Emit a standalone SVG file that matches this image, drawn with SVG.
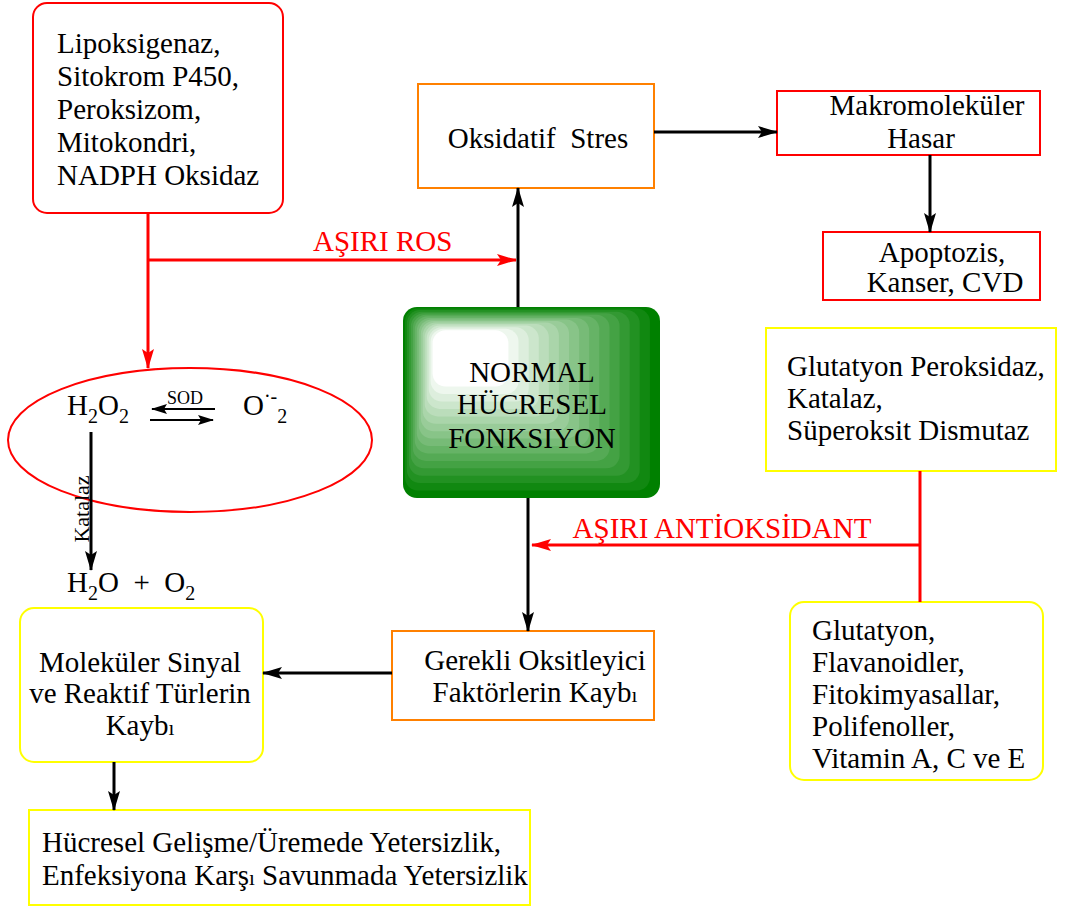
<svg xmlns="http://www.w3.org/2000/svg" width="1076" height="911" viewBox="0 0 1076 911" font-family="'Liberation Serif', 'DejaVu Serif', serif">
<style>
text{font-family:'Liberation Serif','DejaVu Serif',serif;font-size:29px;fill:#000}
.c{text-anchor:middle}
.red{fill:#FF0000}
.fb{font-size:21px}
.sub{font-size:20px}
.bx{fill:#fff;stroke-width:2}
.r{stroke:#FF0000}
.o{stroke:#FF8000}
.y{stroke:#FFFF00}
.ln{fill:none;stroke:#000;stroke-width:3}
.lr{fill:none;stroke:#FF0000;stroke-width:3}
.ls{fill:none;stroke:#000;stroke-width:2}
</style>
<defs>
<marker id="ab" viewBox="0 0 20 12" refX="19" refY="6" markerWidth="20" markerHeight="12" markerUnits="userSpaceOnUse" orient="auto"><path d="M0,0 L20,6 L0,12 L4,6 Z" fill="#000"/></marker>
<marker id="ar" viewBox="0 0 20 12" refX="19" refY="6" markerWidth="20" markerHeight="12" markerUnits="userSpaceOnUse" orient="auto"><path d="M0,0 L20,6 L0,12 L4,6 Z" fill="#FF0000"/></marker>
<marker id="as" viewBox="0 0 16 10" refX="15" refY="5" markerWidth="16" markerHeight="10" markerUnits="userSpaceOnUse" orient="auto"><path d="M0,0 L16,5 L0,10 L3,5 Z" fill="#000"/></marker>
</defs>

<g id="n-sources">
<rect class="bx r" x="33" y="3" width="250" height="210" rx="14"/>
<text x="57" y="53">Lipoksigenaz,</text>
<text x="57" y="86">Sitokrom P450,</text>
<text x="57" y="119">Peroksizom,</text>
<text x="57" y="152">Mitokondri,</text>
<text x="57" y="185">NADPH Oksidaz</text>
</g>

<g id="n-stres">
<rect class="bx o" x="418" y="84" width="236" height="104"/>
<text class="c" x="538" y="148" xml:space="preserve">Oksidatif  Stres</text>
</g>

<g id="n-makro">
<rect class="bx r" x="777" y="91" width="263" height="64"/>
<text class="c" x="927" y="115">Makromoleküler</text>
<text class="c" x="921" y="148">Hasar</text>
</g>

<g id="n-apoptozis">
<rect class="bx r" x="823" y="232" width="217" height="68"/>
<text class="c" x="942" y="262">Apoptozis,</text>
<text class="c" x="945" y="292">Kanser, CVD</text>
</g>

<g id="n-enzymes">
<rect class="bx y" x="766" y="328" width="290" height="143"/>
<text x="787" y="376">Glutatyon Peroksidaz,</text>
<text x="787" y="408">Katalaz,</text>
<text x="787" y="440">Süperoksit Dismutaz</text>
</g>

<g id="n-antiox">
<rect class="bx y" x="790" y="602" width="253" height="178" rx="14"/>
<text x="812" y="640">Glutatyon,</text>
<text x="812" y="672">Flavanoidler,</text>
<text x="812" y="704">Fitokimyasallar,</text>
<text x="812" y="736">Polifenoller,</text>
<text x="812" y="768">Vitamin A, C ve E</text>
</g>

<g id="n-normal">
<rect x="403" y="307" width="257" height="191" rx="14" fill="#008000"/>
<rect x="405.0" y="308.6" width="244.9" height="182.0" rx="13" fill="#118811"/>
<rect x="406.9" y="310.1" width="232.8" height="173.0" rx="13" fill="#229122"/>
<rect x="408.9" y="311.7" width="220.8" height="164.1" rx="13" fill="#339933"/>
<rect x="410.9" y="313.2" width="208.7" height="155.1" rx="13" fill="#44A244"/>
<rect x="412.9" y="314.8" width="196.6" height="146.1" rx="13" fill="#55AA55"/>
<rect x="414.8" y="316.3" width="184.5" height="137.1" rx="13" fill="#66B366"/>
<rect x="416.8" y="317.9" width="172.4" height="128.2" rx="13" fill="#77BB77"/>
<rect x="418.8" y="319.4" width="160.4" height="119.2" rx="13" fill="#88C488"/>
<rect x="420.8" y="321.0" width="148.3" height="110.2" rx="13" fill="#99CC99"/>
<rect x="422.7" y="322.5" width="136.2" height="101.2" rx="13" fill="#AAD5AA"/>
<rect x="424.7" y="324.1" width="124.1" height="92.3" rx="13" fill="#BBDDBB"/>
<rect x="426.7" y="325.6" width="112.1" height="83.3" rx="13" fill="#CCE6CC"/>
<rect x="428.7" y="327.2" width="100.0" height="74.3" rx="13" fill="#DDEEDD"/>
<rect x="430.6" y="328.7" width="87.9" height="65.3" rx="13" fill="#EEF7EE"/>
<rect x="432.6" y="330.3" width="75.8" height="56.3" rx="13" fill="#FFFFFF"/>
<text class="c" x="532" y="382">NORMAL</text>
<text class="c" x="532" y="414">HÜCRESEL</text>
<text class="c" x="532" y="448">FONKSIYON</text>
</g>

<g id="n-gerekli">
<rect class="bx o" x="392" y="631" width="262" height="89"/>
<text class="c" x="535" y="670">Gerekli Oksitleyici</text>
<text class="c" x="535" y="702">Faktörlerin Kayb<tspan class="fb">ı</tspan></text>
</g>

<g id="n-molekuler">
<rect class="bx y" x="20" y="608" width="243" height="154" rx="14"/>
<text class="c" x="140" y="672">Moleküler Sinyal</text>
<text class="c" x="140" y="703">ve Reaktif Türlerin</text>
<text class="c" x="140" y="735">Kayb<tspan class="fb">ı</tspan></text>
</g>

<g id="n-sonuc">
<rect class="bx y" x="29" y="810" width="501" height="95"/>
<text x="42" y="852">Hücresel Gelişme/Üremede Yetersizlik,</text>
<text x="42" y="885">Enfeksiyona Karş<tspan class="fb">ı</tspan> Savunmada Yetersizlik</text>
</g>

<g id="n-ros">
<ellipse cx="190" cy="440" rx="182" ry="72" fill="none" stroke="#FF0000" stroke-width="2"/>
<text x="67" y="415">H<tspan class="sub" dy="8">2</tspan><tspan dy="-8">O</tspan><tspan class="sub" dy="8">2</tspan></text>
<text x="243" y="415">O<tspan class="sub" dy="-12">·-</tspan><tspan class="sub" dy="20">2</tspan></text>
<text class="c" x="185" y="404" style="font-size:18px">SOD</text>
<path class="ls" d="M215,409 L152,409" marker-end="url(#as)"/>
<path class="ls" d="M150,420 L213,420" marker-end="url(#as)"/>
<text x="67" y="592" xml:space="preserve">H<tspan class="sub" dy="8">2</tspan><tspan dy="-8">O  +  O</tspan><tspan class="sub" dy="8">2</tspan></text>
<text class="c" transform="translate(89 509) rotate(-90)" style="font-size:22px">Katalaz</text>
</g>

<g id="connectors">
<path class="lr" d="M148,213 L148,368" marker-end="url(#ar)"/>
<path class="lr" d="M148,260 L516,260" marker-end="url(#ar)"/>
<text class="red" x="313" y="251">AŞIRI ROS</text>
<path class="lr" d="M920,471 L920,602"/>
<path class="lr" d="M921,545 L532,545" marker-end="url(#ar)"/>
<text class="red c" x="722" y="538">AŞIRI ANTİOKSİDANT</text>
<path class="ln" d="M654,132 L777,132" marker-end="url(#ab)"/>
<path class="ln" d="M518,307 L518,188" marker-end="url(#ab)"/>
<path class="ln" d="M930,155 L930,232" marker-end="url(#ab)"/>
<path class="ln" d="M528,498 L528,631" marker-end="url(#ab)"/>
<path class="ln" d="M392,673 L263,673" marker-end="url(#ab)"/>
<path class="ln" d="M114,762 L114,810" marker-end="url(#ab)"/>
<path class="ln" d="M91,432 L91,570" marker-end="url(#ab)"/>
</g>
</svg>
